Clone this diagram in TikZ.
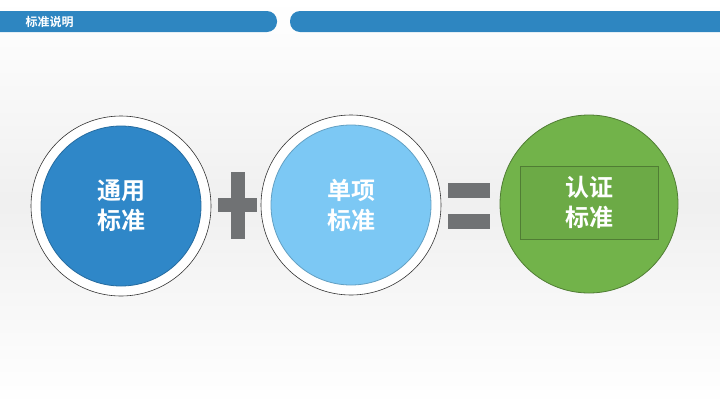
\documentclass[tikz,border=0pt]{standalone}
\usepackage{fontspec}
\newfontfamily\cjk[BoldFont={Noto Sans CJK SC Bold}]{Noto Sans CJK SC}
\definecolor{hdr}{HTML}{2E86C1}
\definecolor{blueA}{HTML}{2F87C8}
\definecolor{blueB}{HTML}{7CC8F4}
\definecolor{greenA}{HTML}{72B34A}
\definecolor{symg}{HTML}{707274}
\begin{document}
\begin{tikzpicture}[x=1pt,y=-1pt,
  ring/.style={circle,draw=black!80,line width=0.6pt,fill=white,minimum size=180pt,inner sep=0pt},
  disc/.style={circle,draw=#1!80!black,line width=0.8pt,fill=#1,minimum size=160pt,inner sep=0pt},
  lbl/.style={text=white,font=\cjk\bfseries\fontsize{24}{30}\selectfont,align=center},
  sym/.style={fill=symg,draw=none}]
\useasboundingbox[top color=white,bottom color=white,middle color=gray!12] (0,0) rectangle (720,405);
\fill[hdr,rounded corners=10pt] (-12,11) rectangle (277,32);
\fill[hdr,rounded corners=10pt] (290,11) rectangle (732,32);
\node[anchor=west,text=white,font=\cjk\bfseries\fontsize{12}{14}\selectfont] (title) at (22,21.5) {标准说明};
\node[ring] (r1) at (121,206) {};
\node[disc=blueA] (c1) at (121,206) {};
\node[lbl] (t1) at (c1) {通用\\标准};
\node[ring] (r2) at (351,205) {};
\node[disc=blueB] (c2) at (351,205) {};
\node[lbl] (t2) at (c2) {单项\\标准};
\fill[sym] (231,172) rectangle (245,239);
\fill[sym] (218,198) rectangle (257,212);
\fill[sym] (448,183) rectangle (490,198);
\fill[sym] (448,214) rectangle (490,229);
\node[circle,draw=greenA!70!black,line width=0.8pt,fill=greenA,minimum size=178pt,inner sep=0pt] (c3) at (589,204) {};
\node[draw=greenA!70!black,line width=0.8pt,fill=greenA!95!black,minimum width=138pt,minimum height=73pt] (box) at (589,202.5) {};
\node[lbl] (t3) at (box) {认证\\标准};
\end{tikzpicture}
\end{document}
